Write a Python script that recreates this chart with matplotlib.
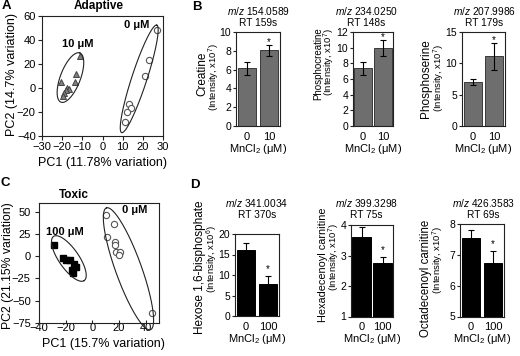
import numpy as np
import matplotlib
matplotlib.use('Agg')
import matplotlib.pyplot as plt

plt.rcParams['font.family'] = ['Liberation Sans', 'DejaVu Sans']
plt.rcParams['mathtext.fontset'] = 'custom'
plt.rcParams['mathtext.rm'] = 'Liberation Sans'
plt.rcParams['mathtext.it'] = 'Liberation Sans:italic'
plt.rcParams['mathtext.bf'] = 'Liberation Sans:bold'

W, H = 520, 356

# PCA scores - adaptive dose (A)
adapt_ctrl_pc1 = [27, 23, 21, 13, 14, 12, 11]
adapt_ctrl_pc2 = [48, 23, 10, -13, -17, -20, -28]
adapt_mn_pc1 = [-11, -13, -20.5, -13.5, -17.5, -16.5, -18, -19, -19.5]
adapt_mn_pc2 = [27, 12, 5, 5, 0, -1, -2, -4, -7]

# PCA scores - toxic dose (C)
tox_ctrl_pc1 = [10, 16, 11, 17, 17, 18, 21, 20, 45]
tox_ctrl_pc2 = [47, 36, 22, 16, 13, 5, 5, 1, -64]
tox_mn_pc1 = [-28.5, -22, -19.5, -17, -13.5, -12.5, -15, -14.5]
tox_mn_pc2 = [13, -2, -4, -4, -9, -12, -15, -19]

# metabolite intensities (B, D)
dose_adapt = ['0', '10']
dose_tox = ['0', '100']
creatine = [6.15, 8.05]
creatine_err = [0.7, 0.6]
phosphocreatine = [7.35, 9.95]
phosphocreatine_err = [0.85, 1.0]
phosphoserine = [7.05, 11.1]
phosphoserine_err = [0.5, 2.1]
hexose_bp = [16.0, 7.8]
hexose_bp_err = [1.8, 2.0]
hexadecenoyl = [3.62, 2.75]
hexadecenoyl_err = [0.3, 0.2]
octadecenoyl = [7.53, 6.73]
octadecenoyl_err = [0.28, 0.38]

fig = plt.figure(figsize=(W / 100, H / 100), dpi=100)


def px_axes(l, t, r, b):
    return fig.add_axes([l / W, 1 - b / H, (r - l) / W, (b - t) / H])


def ftext(x, y, s, **kw):
    fig.text(x / W, 1 - y / H, s, ha=kw.pop('ha', 'center'), va=kw.pop('va', 'center'), **kw)


def style(ax):
    for sp in ax.spines.values():
        sp.set_linewidth(0.8)
        sp.set_color('#222222')
    ax.tick_params(labelsize=8, length=3, width=0.8, pad=1.5, color='#222222')


def ellipse(ax, center, tip, ratio):
    # ellipse drawn in display space so it looks right whatever the aspect
    c = ax.transData.transform(center)
    t = ax.transData.transform(tip)
    a = t - c
    b = np.array([-a[1], a[0]]) * ratio
    th = np.linspace(0, 2 * np.pi, 200)
    pts = c + np.outer(np.cos(th), a) + np.outer(np.sin(th), b)
    d = ax.transData.inverted().transform(pts)
    ax.plot(d[:, 0], d[:, 1], color='#222222', lw=0.8, clip_on=False)


# ---- A
ax = px_axes(42, 16, 163, 136)
style(ax)
ax.set_xlim(-30, 30)
ax.set_ylim(-40, 60)
ax.set_xticks(range(-30, 31, 10))
ax.set_yticks(range(-40, 61, 20))
ax.plot(adapt_ctrl_pc1, adapt_ctrl_pc2, 'o', ms=4.5, mfc='white', mec='#555555', mew=0.8)
ax.plot(adapt_mn_pc1, adapt_mn_pc2, '^', ms=5, mfc='#7f7f7f', mec='#444444', mew=0.7)
ellipse(ax, (-15.9, 8.7), (-11.2, 29.2), 0.38)
ellipse(ax, (18.2, 7.6), (26.9, 52.4), 0.134)
ax.text(-12.2, 36.5, '10 μM', fontsize=8, fontweight='bold', ha='center', va='center')
ax.text(17.1, 52.4, '0 μM', fontsize=8, fontweight='bold', ha='center', va='center')
ftext(6, 6, 'A', fontsize=9.5, fontweight='bold')
ftext(99, 6, 'Adaptive', fontsize=8.5, fontweight='bold')
ftext(103, 163, 'PC1 (11.78% variation)', fontsize=9)
ftext(12, 74, 'PC2 (14.7% variation)', fontsize=9, rotation=90)

# ---- C
ax = px_axes(39, 203, 159, 322.7)
style(ax)
ax.set_xlim(-40, 50)
ax.set_ylim(-75, 60)
ax.set_xticks(range(-40, 41, 20))
ax.set_yticks(range(-75, 51, 25))
ax.tick_params(axis='x', direction='in', length=2, pad=0.5)
ax.tick_params(axis='y', pad=3)
ax.plot(tox_ctrl_pc1, tox_ctrl_pc2, 'o', ms=4.5, mfc='white', mec='#555555', mew=0.8)
ax.plot(tox_mn_pc1, tox_mn_pc2, 's', ms=4.5, mfc='black', mec='black')
ellipse(ax, (-17.6, -2.6), (-6.1, -27.5), 0.37)
ellipse(ax, (27.1, -14.2), (10.6, 54.5), 0.2)
ax.text(-20.6, 27, '100 μM', fontsize=8, fontweight='bold', ha='center', va='center')
ax.text(31.8, 52.2, '0 μM', fontsize=8, fontweight='bold', ha='center', va='center')
ftext(5, 183, 'C', fontsize=9.5, fontweight='bold')
ftext(74, 195, 'Toxic', fontsize=8.5, fontweight='bold')
ftext(103, 344, 'PC1 (15.7% variation)', fontsize=9)
ftext(8, 266, 'PC2 (21.15% variation)', fontsize=8.8, rotation=90)

# ---- bar panels
bar_panels = [
    # box, values, errors, doses, ylim, yticks, color, title, ylabel
    ((236, 32, 280, 126), creatine, creatine_err, dose_adapt, (0, 10), range(0, 11, 2), '#6e6e6e',
     ('154.0589', '159s', 258, 10.7), ('Creatine', 8.5, 202, 74, 214, 77, 7)),
    ((353, 32, 393, 126), phosphocreatine, phosphocreatine_err, dose_adapt, (0, 12), range(0, 13, 2), '#6e6e6e',
     ('234.0250', '148s', 366, 10.7), ('Phosphocreatine', 7, 318, 64, 329, 62, 7)),
    ((462, 32, 505, 126), phosphoserine, phosphoserine_err, dose_adapt, (0, 15), range(0, 16, 5), '#6e6e6e',
     ('207.9986', '179s', 484, 10.7), ('Phosphoserine', 8.5, 426, 79, 439, 78, 7)),
    ((235, 234, 279, 316), hexose_bp, hexose_bp_err, dose_tox, (0, 20), range(0, 21, 5), 'black',
     ('341.0034', '370s', 257, 202.7), ('Hexose 1,6-bisphosphate', 8.5, 200, 267, 212, 259, 6)),
    ((351, 225, 393, 316.5), hexadecenoyl, hexadecenoyl_err, dose_tox, (1, 4), range(1, 5), 'black',
     ('399.3298', '75s', 366, 202.7), ('Hexadecenoyl carnitine', 7.8, 323, 265, 334, 257, 7)),
    ((460, 224, 504, 316.5), octadecenoyl, octadecenoyl_err, dose_tox, (5, 8), range(5, 9), 'black',
     ('426.3583', '69s', 483, 202.7), ('Octadecenoyl carnitine', 8.3, 426, 278, 438, 260, 7)),
]

for box, vals, errs, doses, ylim, yticks, col, title, ylab in bar_panels:
    ax = px_axes(*box)
    style(ax)
    ax.tick_params(axis='y', labelsize=7.5, length=2.5, pad=1)
    x = np.arange(len(vals))
    edge = '#3a3a3a' if col != 'black' else 'black'
    ax.bar(x, vals, width=0.86, color=col, edgecolor=edge, linewidth=0.7)
    ax.errorbar(x, vals, yerr=errs, fmt='none', ecolor='black', elinewidth=0.8, capsize=2.3, capthick=0.8)
    ax.set_xlim(-0.5, 1.5)
    ax.set_ylim(*ylim)
    ax.set_yticks(list(yticks))
    ax.set_xticks(x)
    ax.set_xticklabels(doses)
    ax.tick_params(axis='x', length=0, pad=4)
    ax.set_xlabel(r'MnCl$_2$ (μM)', fontsize=8, labelpad=0)
    top = vals[1] + errs[1]
    off = 0 if col != 'black' else 3
    ax.annotate('*', xy=(1, top), xytext=(0, off), textcoords='offset points',
                ha='center', va='baseline', fontsize=7)
    mz, rt, tx, ty = title
    ftext(tx, ty, r'$m/z$ ' + mz, fontsize=7.3)
    ftext(tx, ty + 12.5, 'RT ' + rt, fontsize=7.3)
    name, nsize, x1, y1, x2, y2, exp = ylab
    ftext(x1, y1, name, fontsize=nsize, rotation=90)
    ftext(x2, y2, r'(Intensity, x10$^{%d}$)' % exp, fontsize=6.8, rotation=90)

ftext(197, 7.3, 'B', fontsize=9.5, fontweight='bold')
ftext(195, 185, 'D', fontsize=9.5, fontweight='bold')

fig.savefig('out.png', dpi=100)
